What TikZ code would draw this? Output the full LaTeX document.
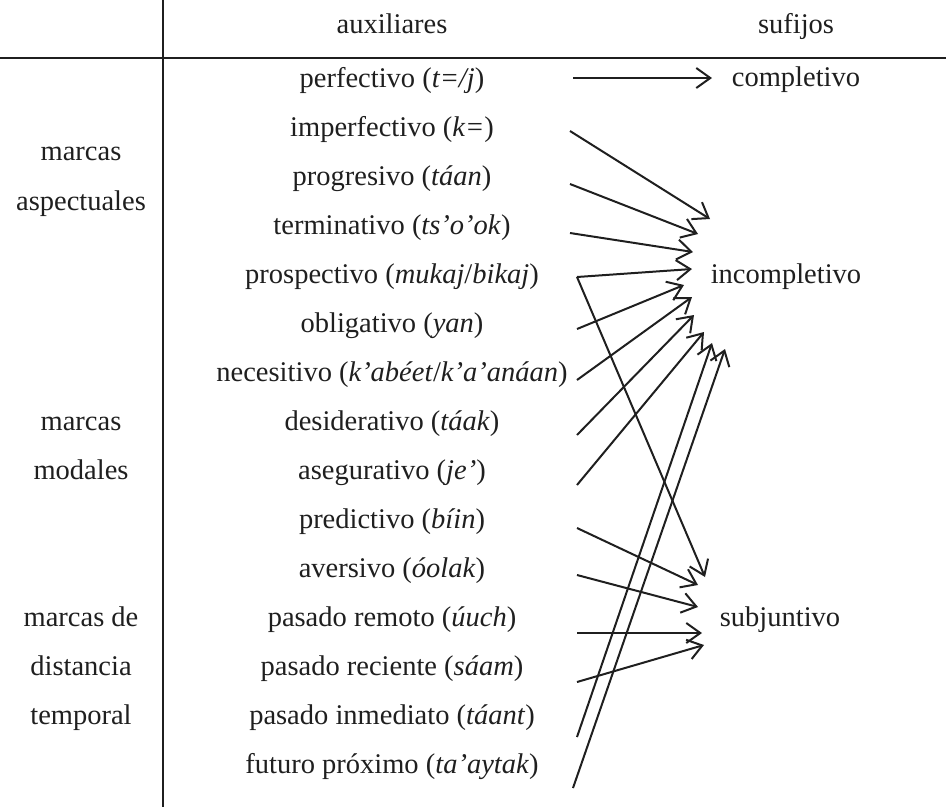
\documentclass[tikz,border=0pt]{standalone}
\usepackage{fontspec}
\setmainfont{Liberation Serif}
\usetikzlibrary{arrows.meta}
\tikzset{
  txt/.style={font=\fontsize{28.5}{34}\selectfont, inner sep=0pt, anchor=base, text=black!88},
  rule/.style={line width=2.2pt, black!88},
  arr/.style={-{Straight Barb[length=14pt,width=20pt,line width=2pt]}, line width=2pt, black!88}
}
\begin{document}
\begin{tikzpicture}[x=1pt,y=-1pt]
\useasboundingbox (0,0) rectangle (946,807);
% table rules
\draw[rule] (163,0) -- (163,807);
\draw[rule] (0,58) -- (946,58);
% headers
\node[txt] (hAux) at (392,33) {auxiliares};
\node[txt] (hSuf) at (796,33) {sufijos};
% left labels
\node[txt] (asp1) at (81,160) {marcas};
\node[txt] (asp2) at (81,210) {aspectuales};
\node[txt] (mod1) at (81,430) {marcas};
\node[txt] (mod2) at (81,479) {modales};
\node[txt] (dis1) at (81,626) {marcas de};
\node[txt] (dis2) at (81,675) {distancia};
\node[txt] (dis3) at (81,724) {temporal};
% auxiliares
\node[txt] (perf) at (392,87) {perfectivo (\textit{t=/j})};
\node[txt] (imperf) at (392,136) {imperfectivo (\textit{k=})};
\node[txt] (progr) at (392,185) {progresivo (\textit{táan})};
\node[txt] (termin) at (392,234) {terminativo (\textit{ts'o'ok})};
\node[txt] (prosp) at (392,283) {prospectivo (\textit{mukaj}/\textit{bikaj})};
\node[txt] (oblig) at (392,332) {obligativo (\textit{yan})};
\node[txt] (neces) at (392,381) {necesitivo (\textit{k'abéet}/\textit{k'a'anáan})};
\node[txt] (desid) at (392,430) {desiderativo (\textit{táak})};
\node[txt] (asegur) at (392,479) {asegurativo (\textit{je'})};
\node[txt] (predic) at (392,528) {predictivo (\textit{bíin})};
\node[txt] (avers) at (392,577) {aversivo (\textit{óolak})};
\node[txt] (pasRem) at (392,626) {pasado remoto (\textit{úuch})};
\node[txt] (pasRec) at (392,675) {pasado reciente (\textit{sáam})};
\node[txt] (pasInm) at (392,724) {pasado inmediato (\textit{táant})};
\node[txt] (futPro) at (392,773) {futuro próximo (\textit{ta'aytak})};
% sufijos
\node[txt] (compl) at (796,86) {completivo};
\node[txt] (incompl) at (786,283) {incompletivo};
\node[txt] (subj) at (780,626) {subjuntivo};
% arrow ends
\coordinate (sPerf) at (573,78);   \coordinate (ePerf) at (712,78);
\coordinate (sImperf) at (570,131); \coordinate (eImperf) at (710,219);
\coordinate (sProgr) at (570,184);  \coordinate (eProgr) at (698,234);
\coordinate (sTermin) at (570,233); \coordinate (eTermin) at (693,252);
\coordinate (sProsp) at (577,277);  \coordinate (eProspI) at (692,269);
\coordinate (eProspS) at (705,577);
\coordinate (sOblig) at (577,329);  \coordinate (eOblig) at (684,285);
\coordinate (sNeces) at (577,380);  \coordinate (eNeces) at (692,297);
\coordinate (sDesid) at (577,435);  \coordinate (eDesid) at (694,315);
\coordinate (sAsegur) at (577,485); \coordinate (eAsegur) at (704,332);
\coordinate (sPredic) at (577,528); \coordinate (ePredic) at (698,585);
\coordinate (sAvers) at (577,575);  \coordinate (eAvers) at (698,607);
\coordinate (sPasRem) at (577,633); \coordinate (ePasRem) at (702,633);
\coordinate (sPasRec) at (577,682); \coordinate (ePasRec) at (704,645);
\coordinate (sPasInm) at (577,737); \coordinate (ePasInm) at (712,343);
\coordinate (sFutPro) at (573,788); \coordinate (eFutPro) at (725,349);
% arrows
\draw[arr] (sPerf) -- (ePerf);
\draw[arr] (sImperf) -- (eImperf);
\draw[arr] (sProgr) -- (eProgr);
\draw[arr] (sTermin) -- (eTermin);
\draw[arr] (sProsp) -- (eProspI);
\draw[arr] (sProsp) -- (eProspS);
\draw[arr] (sOblig) -- (eOblig);
\draw[arr] (sNeces) -- (eNeces);
\draw[arr] (sDesid) -- (eDesid);
\draw[arr] (sAsegur) -- (eAsegur);
\draw[arr] (sPredic) -- (ePredic);
\draw[arr] (sAvers) -- (eAvers);
\draw[arr] (sPasRem) -- (ePasRem);
\draw[arr] (sPasRec) -- (ePasRec);
\draw[arr] (sPasInm) -- (ePasInm);
\draw[arr] (sFutPro) -- (eFutPro);
\end{tikzpicture}
\end{document}
